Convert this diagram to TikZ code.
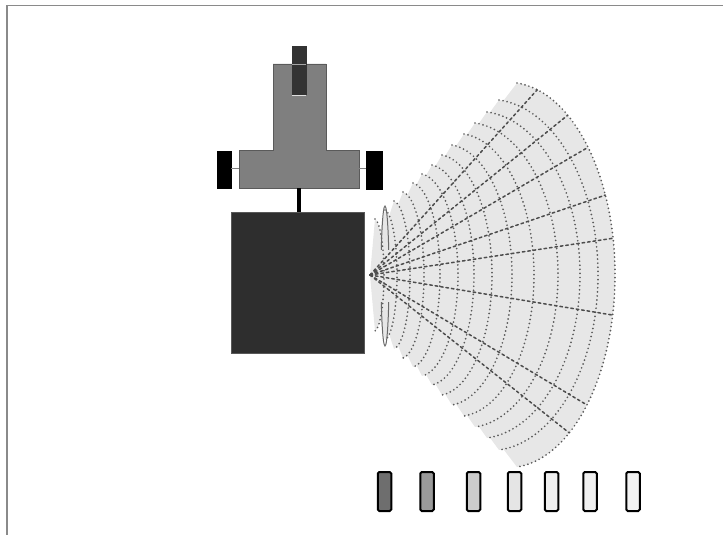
\documentclass[tikz,border=0pt]{standalone}
\definecolor{framegray}{HTML}{8A8A8A}
\definecolor{bodygray}{HTML}{7F7F7F}
\definecolor{bodyedge}{HTML}{5A5A5A}
\definecolor{sensorgray}{HTML}{333333}
\definecolor{boxgray}{HTML}{2E2E2E}
\definecolor{fanfill}{HTML}{E7E7E7}
\definecolor{dotgray}{HTML}{5A5A5A}
\definecolor{dashgray}{HTML}{4D4D4D}
\definecolor{lobegray}{HTML}{6A6A6A}
\begin{document}
\begin{tikzpicture}[x=1pt,y=-1pt,
  part/.style={inner sep=0pt, outer sep=0pt},
  wheel/.style={part, fill=black, draw=black, line width=0.6pt},
  bar/.style={part, draw=black, line width=2pt, rounded corners=1.5pt,
              minimum width=13.5pt, minimum height=39pt},
  dotarc/.style={draw=dotgray, line width=1.9pt, line cap=round,
                 dash pattern=on 0pt off 4.1pt},
  raddash/.style={draw=dashgray, line width=1.5pt, line cap=round,
                  dash pattern=on 2.6pt off 2.9pt},
  lobe/.style={draw=lobegray, line width=1pt},
  axle/.style={draw=gray, line width=1pt},
  rod/.style={draw=black, line width=4.5pt}]

\useasboundingbox (0,0) rectangle (723,535);

% frame lines along the top and left edges
\draw[framegray, line width=1.3pt] (7,535) -- (7,5.5) -- (723,5.5);

% ---- sonar beam ----
% each ring: right-most reach, half height at its tip, depth of its curve
\def\rings{245/192/98, 228/175/99, 210/163/93, 188/152/83, 164/141/70,
           142/130/60, 122/120/50, 104/110/42, 88/101/36, 70/92/27,
           54/83/21, 40/74/16, 27/65/12, 14/56/9}
\coordinate (apex) at (370,275);
\begin{scope}[shift={(apex)}, y=1pt]
  % light fill, one segment per ring (gives the serrated flanks)
  \foreach \xr/\h/\d in \rings {
    \pgfmathsetmacro\ra{\d/0.9128}
    \pgfmathsetmacro\rb{\h/0.9962}
    \fill[fanfill] (0,0) -- ({\xr-\d},\h)
      arc[start angle=85, end angle=-85, x radius=\ra, y radius=\rb] -- cycle;
  }
  % range rings
  \foreach \xr/\h/\d in \rings {
    \pgfmathsetmacro\ra{\d/0.9128}
    \pgfmathsetmacro\rb{\h/0.9962}
    \draw[dotarc] ({\xr-\d},\h)
      arc[start angle=85, end angle=-85, x radius=\ra, y radius=\rb];
  }
  % bearing lines, ending on the outer ring
  \foreach \t in {74, 56, 41.5, 24.5, 11, -12, -42.4, -55}
    \draw[raddash] (0,0) -- ({137.6+107.4*cos(\t)},{192.7*sin(\t)});
  % side-lobe outline
  \draw[lobe] (18.7,25.2) arc[start angle=22, end angle=158, x radius=4, y radius=70];
  \draw[lobe] (11.3,-27.2) arc[start angle=202, end angle=338, x radius=4, y radius=70];
\end{scope}

% ---- robot ----
% hull
\node[part, fill=boxgray, draw=boxgray!80!white, line width=0.6pt,
      minimum width=133pt, minimum height=141pt] (hull) at (297.5,282.5) {};
% T-shaped upper body
\fill[bodygray, draw=bodyedge, line width=0.6pt]
  (273,64) -- (326,64) -- (326,150) -- (359,150) -- (359,188)
  -- (239,188) -- (239,150) -- (273,150) -- cycle;
\coordinate (bodybase) at (299,188);
\coordinate (bodyL) at (239,168);
\coordinate (bodyR) at (359,168);
% front sensor
\node[part, fill=sensorgray, draw=sensorgray, line width=0.4pt,
      minimum width=14pt, minimum height=48pt] (sensor) at (299,70) {};
\draw[gray!70!white, line width=0.8pt] (sensor.west |- 0,64) -- (sensor.east |- 0,64);
\draw[gray!25!white, line width=1pt] ([yshift=-1.5pt]sensor.south west) -- ([yshift=-1.5pt]sensor.south east);
% wheels and axles
\node[wheel, minimum width=14pt, minimum height=37pt] (lwheel) at (224,169.5) {};
\node[wheel, minimum width=16pt, minimum height=38pt] (rwheel) at (374,170) {};
\draw[axle] (lwheel.east |- bodyL) -- (bodyL);
\draw[axle] (rwheel.west |- bodyR) -- (bodyR);
% linkage rod between body and hull
\draw[rod] (bodybase) -- (bodybase |- hull.north);

% ---- intensity scale ----
\node[bar, fill={rgb,255:red,110;green,110;blue,110}] (b1) at (384.5,491.5) {};
\node[bar, fill={rgb,255:red,154;green,154;blue,154}] (b2) at (427,491.5) {};
\node[bar, fill={rgb,255:red,204;green,204;blue,204}] (b3) at (473.5,491.5) {};
\node[bar, fill={rgb,255:red,229;green,229;blue,229}] (b4) at (514.5,491.5) {};
\node[bar, fill={rgb,255:red,239;green,239;blue,239}] (b5) at (551.5,491.5) {};
\node[bar, fill={rgb,255:red,240;green,240;blue,240}] (b6) at (590,491.5) {};
\node[bar, fill={rgb,255:red,243;green,243;blue,243}] (b7) at (633,491.5) {};
\end{tikzpicture}
\end{document}
